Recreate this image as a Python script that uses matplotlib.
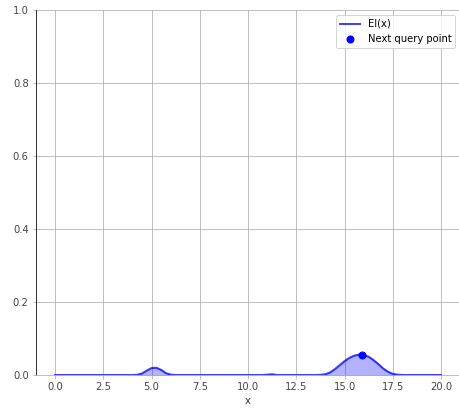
import numpy as np
import matplotlib
matplotlib.use("Agg")
import matplotlib.pyplot as plt

# grid of candidate points and the expected improvement read on it
x_grid = np.arange(0, 20.01, 0.25)
ei_vals = [
    0, 0, 0, 0, 0, 0, 0, 0,            # 0.0 - 1.75
    0, 0, 0, 0, 0, 0, 0, 0,            # 2.0 - 3.75
    0, 0.0005, 0.004, 0.012,           # 4.0 - 4.75
    0.019, 0.020, 0.014, 0.005,        # 5.0 - 5.75
    0.001, 0, 0, 0,                    # 6.0 - 6.75
    0, 0, 0, 0, 0, 0, 0, 0,            # 7.0 - 8.75
    0, 0, 0, 0, 0, 0, 0, 0,            # 9.0 - 10.75
    0.001, 0.002, 0, 0,                # 11.0 - 11.75
    0, 0, 0, 0, 0, 0, 0, 0.0005,       # 12.0 - 13.75
    0.002, 0.007, 0.016, 0.027,        # 14.0 - 14.75
    0.038, 0.047, 0.053, 0.056,        # 15.0 - 15.75
    0.055, 0.050, 0.041, 0.030,        # 16.0 - 16.75
    0.018, 0.009, 0.003, 0.001,        # 17.0 - 17.75
    0, 0, 0, 0, 0, 0, 0, 0, 0,         # 18.0 - 20.0
]
next_x = 15.9
next_ei = 0.055

fig = plt.figure(figsize=(459 / 72, 409 / 72), dpi=72)
ax = fig.add_axes([35.7 / 459, 34 / 409, 424.6 / 459, 365 / 409])

ax.plot(x_grid, ei_vals, color="blue", lw=2, alpha=0.75, label="EI(x)")
ax.fill_between(x_grid, ei_vals, 0, color="blue", alpha=0.3)
ax.plot([next_x], [next_ei], "o", color="blue", markersize=7,
        label="Next query point")

ax.set_xlim(-1, 21)
ax.set_ylim(0, 1)
ax.set_xticks(np.arange(0, 20.1, 2.5))
ax.set_xlabel("x", fontsize=10, color="#333333")
ax.grid(True, color="#b0b0b0", lw=0.8)
ax.set_axisbelow(True)

for s in ["top", "right"]:
    ax.spines[s].set_visible(False)
ax.spines["bottom"].set_color("#b0b0b0")
ax.spines["left"].set_color("black")
ax.tick_params(colors="#444444", labelsize=10)
ax.tick_params(axis="both", color="#b0b0b0")

ax.legend(loc="upper right", fontsize=10)

fig.savefig("out.png", dpi=72)
